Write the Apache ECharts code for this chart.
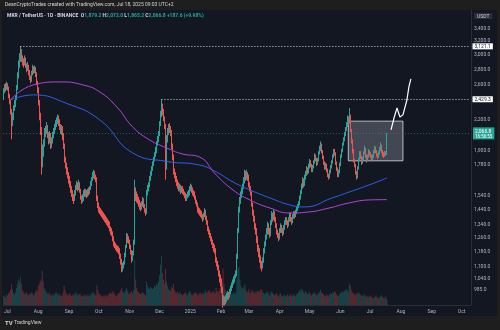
<!DOCTYPE html>
<html>
<head>
<meta charset="utf-8">
<script src="https://cdn.jsdelivr.net/npm/echarts@6/dist/echarts.min.js"></script>
<style>
html,body{margin:0;padding:0;background:#1e1e1e;overflow:hidden;}
#chart{width:500px;height:330px;}
</style>
</head>
<body>
<div id="chart"></div>
<script>
// ---------------- DATA ----------------
const firstDate = '2024-06-27';
const lastAxisDate = '2025-10-10';
const firstOpen = 2450;
const closes = [
2520,2580,2560,2600,2560,2470,2400,2300,2180,2250,
2320,2360,2440,2560,2700,2860,2960,3040,2950,2900,
2880,2940,2850,2800,2840,2760,2700,2660,2740,2820,
2790,2810,2740,2620,2550,2400,2250,2100,1980,1800,
1880,1960,2080,2100,2130,2060,1990,2050,1950,1990,
2040,2080,2120,2160,2190,2220,2180,2140,2090,2120,
2050,1950,1830,1780,1740,1700,1670,1630,1590,1560,
1530,1510,1550,1600,1620,1590,1630,1580,1530,1500,
1520,1560,1550,1560,1540,1570,1560,1590,1620,1660,
1690,1710,1680,1670,1520,1470,1440,1430,1420,1415,
1400,1390,1380,1370,1360,1350,1345,1320,1300,1290,
1260,1230,1215,1205,1200,1195,1190,1160,1135,1085,
1100,1115,1160,1205,1270,1250,1245,1210,1180,1140,
1170,1230,1560,1540,1530,1510,1490,1470,1455,1480,
1510,1470,1440,1420,1560,1590,1610,1660,1700,1740,
1780,1820,1860,1900,1960,2000,2050,2150,2250,2330,
2300,2220,2150,1760,2000,2080,2130,2110,2090,1950,
1850,1720,1700,1660,1640,1620,1590,1600,1580,1590,
1570,1560,1540,1520,1530,1550,1560,1590,1600,1580,
1560,1550,1530,1500,1480,1460,1440,1430,1420,1410,
1400,1380,1400,1430,1390,1360,1320,1300,1280,1260,
1240,1220,1200,1190,1140,1120,1100,1070,1040,1030,
990,935,940,930,945,950,960,955,975,990,
1000,1020,1030,1045,1060,1150,1300,1440,1500,1540,
1560,1600,1640,1700,1680,1700,1690,1620,1600,1560,
1480,1420,1380,1330,1300,1250,1200,1180,1150,1110,
1100,1130,1180,1220,1260,1290,1330,1300,1280,1350,
1400,1380,1420,1380,1340,1300,1280,1260,1300,1330,
1310,1290,1320,1350,1370,1360,1340,1370,1400,1380,
1360,1390,1410,1400,1420,1440,1460,1480,1520,1560,
1600,1650,1620,1680,1700,1740,1720,1760,1800,1780,
1740,1760,1800,1850,1830,1790,1820,1880,1920,1960,
1900,1850,1800,1760,1780,1740,1700,1680,1720,1760,
1800,1850,1900,1880,1800,1750,1700,1720,1780,1850,
1900,1960,2000,2050,2100,2150,2200,2180,2250,2100,
2000,1900,1850,1820,1780,1720,1680,1750,1820,1880,
1850,1800,1830,1880,1920,1860,1820,1850,1900,1880,
1860,1830,1850,1890,1930,1900,1870,1850,1880,1920,
1950,1900,1870,1860,1880,1879.2,2066.8
];
const highs = [
2560,2610,2620,2640,2620,2580,2490,2420,2320,2280,
2360,2420,2470,2600,2760,2920,3020,3121.1,3080,2990,
2950,2990,2960,2880,2900,2860,2790,2720,2780,2860,
2840,2850,2830,2760,2650,2570,2420,2280,2130,2000,
1960,2010,2120,2140,2180,2150,2080,2090,2070,2030,
2080,2120,2160,2200,2230,2260,2250,2210,2160,2150,
2140,2070,1970,1850,1800,1760,1720,1690,1650,1610,
1580,1550,1580,1620,1650,1640,1660,1640,1590,1540,
1550,1580,1590,1590,1580,1590,1600,1610,1650,1680,
1720,1740,1730,1700,1680,1540,1490,1460,1450,1440,
1430,1420,1410,1400,1390,1380,1370,1360,1330,1320,
1300,1270,1240,1230,1220,1215,1210,1200,1170,1140,
1120,1130,1175,1220,1290,1285,1270,1250,1220,1190,
1185,1250,1660,1600,1570,1550,1530,1510,1490,1500,
1530,1520,1480,1450,1580,1620,1640,1690,1730,1770,
1810,1850,1890,1940,1990,2040,2090,2190,2300,2429.3,
2380,2320,2240,2160,2050,2120,2160,2170,2140,2100,
1970,1870,1750,1720,1690,1660,1640,1630,1620,1610,
1610,1590,1570,1560,1550,1570,1580,1610,1630,1620,
1600,1580,1570,1540,1510,1490,1470,1460,1450,1440,
1430,1410,1420,1450,1440,1400,1370,1330,1310,1290,
1270,1250,1230,1220,1200,1150,1130,1110,1080,1060,
1040,1000,960,955,960,970,980,975,990,1005,
1020,1035,1050,1060,1080,1170,1320,1460,1530,1570,
1600,1630,1680,1740,1730,1740,1720,1700,1640,1610,
1570,1490,1440,1400,1350,1320,1270,1220,1200,1160,
1130,1150,1200,1240,1280,1320,1360,1350,1320,1370,
1430,1420,1440,1430,1390,1350,1310,1290,1320,1350,
1340,1320,1340,1370,1390,1390,1370,1390,1420,1420,
1390,1410,1430,1430,1440,1460,1480,1500,1540,1580,
1630,1680,1670,1700,1730,1770,1760,1790,1830,1820,
1790,1780,1820,1880,1870,1840,1840,1900,1950,1990,
1970,1910,1860,1810,1800,1790,1750,1710,1740,1780,
1820,1870,1920,1920,1890,1810,1760,1740,1800,1870,
1920,1980,2030,2080,2130,2180,2250,2240,2330,2260,
2110,2010,1920,1870,1830,1790,1730,1770,1840,1900,
1900,1860,1850,1900,1950,1930,1870,1870,1920,1910,
1890,1870,1870,1910,1950,1940,1910,1880,1900,1940,
1980,1960,1910,1890,1900,1900,2072
];
const lows = [
2420,2500,2520,2540,2530,2440,2370,2260,2010,2140,
2200,2300,2340,2420,2540,2680,2820,2900,2900,2850,
2820,2850,2820,2760,2780,2720,2660,2620,2640,2720,
2740,2750,2700,2600,2500,2360,2200,2050,1900,1700,
1760,1850,1940,2030,2060,2020,1960,1970,1920,1930,
1970,2020,2060,2100,2130,2160,2140,2100,2060,2050,
2000,1920,1800,1750,1700,1670,1630,1600,1560,1530,
1500,1480,1500,1540,1580,1570,1580,1560,1510,1480,
1490,1500,1530,1530,1520,1530,1540,1550,1580,1610,
1650,1670,1660,1640,1500,1450,1420,1410,1400,1390,
1380,1370,1360,1350,1340,1330,1320,1300,1280,1270,
1240,1210,1200,1190,1180,1175,1165,1140,1110,1070,
1075,1090,1110,1150,1200,1230,1225,1195,1165,1120,
1130,1160,1220,1500,1490,1480,1460,1440,1430,1440,
1460,1450,1420,1400,1410,1540,1570,1600,1650,1690,
1730,1770,1810,1850,1880,1950,1980,2040,2140,2230,
2250,2190,2110,1660,1740,1980,2050,2070,2040,1920,
1820,1700,1670,1640,1610,1590,1570,1570,1550,1560,
1550,1540,1520,1500,1500,1520,1530,1540,1570,1560,
1540,1530,1510,1480,1460,1440,1420,1410,1400,1390,
1380,1360,1370,1390,1370,1340,1300,1280,1260,1240,
1220,1200,1180,1170,1120,1100,1080,1050,1020,1000,
970,905,915,915,920,930,940,940,950,965,
980,995,1010,1020,1040,1050,1140,1290,1420,1480,
1520,1550,1590,1630,1650,1660,1650,1600,1570,1540,
1460,1400,1360,1310,1280,1230,1180,1150,1120,1090,
1075,1090,1120,1170,1210,1250,1280,1280,1260,1270,
1340,1360,1370,1360,1320,1280,1260,1240,1250,1290,
1290,1270,1280,1310,1340,1340,1320,1330,1360,1360,
1340,1350,1380,1380,1390,1410,1430,1450,1470,1510,
1550,1590,1600,1610,1660,1690,1700,1710,1750,1760,
1720,1720,1750,1790,1810,1770,1780,1810,1870,1900,
1880,1830,1780,1740,1740,1720,1680,1660,1670,1710,
1750,1790,1840,1860,1780,1730,1680,1680,1710,1770,
1840,1890,1950,1990,2040,2090,2130,2150,2160,2080,
1970,1880,1830,1800,1760,1700,1660,1670,1740,1810,
1830,1780,1790,1820,1870,1840,1800,1810,1840,1860,
1840,1810,1820,1840,1880,1880,1850,1830,1840,1870,
1900,1880,1850,1840,1850,1860,1865.2
];
// daily volume, thousands of MKR
const volumes = [
9,8,7,10,9,11,12,14,20,15,
11,10,12,16,20,24,22,26,20,14,
12,11,10,12,10,9,11,10,12,11,
9,10,12,14,13,18,20,22,24,32,
22,16,14,12,11,10,12,9,10,9,
10,9,11,12,10,11,9,10,8,9,
12,18,14,11,10,9,10,11,9,8,
10,9,11,12,10,9,10,11,9,8,
8,9,10,8,9,10,8,9,10,11,
12,11,10,9,19,14,11,10,9,8,
9,8,9,10,8,9,10,11,12,10,
13,12,10,9,8,10,11,12,14,16,
13,11,12,14,16,13,11,10,12,13,
11,14,42,24,16,13,12,11,10,11,
12,11,10,9,22,18,16,15,17,16,
15,16,18,17,20,19,22,28,38,46,
30,24,20,34,22,18,15,14,13,17,
16,20,14,12,11,13,10,12,11,10,
9,10,11,12,10,9,11,13,12,10,
9,10,11,12,11,10,9,11,12,10,
11,10,12,14,11,12,13,14,12,11,
12,13,12,11,16,13,12,14,16,18,
22,34,20,15,13,12,11,12,10,11,
10,11,12,10,12,24,34,36,24,18,
16,15,17,20,14,12,13,15,12,11,
14,13,12,11,13,12,14,13,12,15,
14,12,11,10,11,12,13,10,9,12,
13,11,10,9,10,11,9,8,10,11,
9,8,9,10,8,9,10,8,9,10,
8,9,10,9,8,10,11,12,14,13,
15,14,12,11,13,12,10,11,12,10,
9,10,11,12,10,9,10,11,12,14,
12,11,10,9,8,10,9,8,10,11,
10,12,11,13,12,10,9,8,10,12,
11,13,12,14,13,15,14,12,20,18,
14,12,11,10,9,11,10,12,11,10,
9,8,9,10,8,9,8,7,8,9,
8,7,6,7,8,9,7,6,7,8,
9,8,7,6,7,8,4.42
];
const blueMaDates = ['2024-07-04','2024-07-27','2024-08-30','2024-10-02','2024-11-04','2024-12-08','2025-01-10','2025-01-27','2025-02-13','2025-03-02','2025-03-22','2025-04-11','2025-04-26','2025-05-24','2025-06-10','2025-06-30','2025-07-18'];
const blueMaValues = [2421,2480,2380,2202,1884,1810,1780,1722,1642,1581,1523,1473,1459,1523,1566,1619,1674.1];
const purpleMaDates = ['2024-07-04','2024-07-27','2024-08-23','2024-09-15','2024-10-02','2024-10-19','2024-11-04','2024-11-21','2024-12-08','2024-12-24','2025-01-10','2025-01-27','2025-02-13','2025-03-02','2025-03-22','2025-04-11','2025-05-01','2025-05-21','2025-06-10','2025-06-30','2025-07-18'];
const purpleMaValues = [2421,2600,2637,2600,2514,2342,2131,2004,1930,1875,1849,1698,1581,1508,1452,1418,1425,1452,1487,1508,1510.4];
const projDates = ['2025-07-22','2025-07-25','2025-07-28','2025-07-31','2025-08-03','2025-08-07','2025-08-09','2025-08-11'];
const projValues = [2101,2223,2331,2234,2256,2421,2575,2675];
const levelHigh = {date:'2024-07-14', value:3121.1};
const levelDec = {date:'2024-12-03', value:2429.3};
const lastPrice = 2066.8;
const lastVolume = 4.42;
const boxFrom = {date:'2025-06-09', value:2190};
const boxTo = {date:'2025-08-03', value:1815};
const priceTicks = [3400,3200,3000,2800,2600,2200,1900,1780,1540,1440,1340,1260,1180,1100,1040,985];
const monthNames = ['Jan','Feb','Mar','Apr','May','Jun','Jul','Aug','Sep','Oct','Nov','Dec'];

// ---------------- BUILD ----------------
const FONT = 'Roboto, "Noto Sans", sans-serif';
const UP = '#26a69a', DN = '#ef5350';
const dates = [];
(function(){
  const p = s => { const a = s.split('-').map(Number); return Date.UTC(a[0], a[1]-1, a[2]); };
  let t = p(firstDate); const end = p(lastAxisDate);
  while (t <= end) { dates.push(new Date(t).toISOString().slice(0,10)); t += 86400000; }
})();
const idx = d => dates.indexOf(d);
const candles = closes.map((c,i) => [i === 0 ? firstOpen : closes[i-1], c, lows[i], highs[i]]);
const volData = volumes.map((v,i) => ({value:v, itemStyle:{color: candles[i][1] >= candles[i][0] ? 'rgba(38,166,154,0.32)' : 'rgba(239,83,80,0.32)'}}));
const bluePts = blueMaDates.map((d,k) => [idx(d), blueMaValues[k]]);
const purplePts = purpleMaDates.map((d,k) => [idx(d), purpleMaValues[k]]);
const projPts = projDates.map((d,k) => [idx(d), projValues[k]]);
const fmtPrice = v => Number(v).toLocaleString('en-US', {minimumFractionDigits:1, maximumFractionDigits:1});
const fmtMonth = v => v.slice(5,7) === '01' ? v.slice(0,4) : monthNames[+v.slice(5,7)-1];
const badge = (text, bg, fg) => ({show:true, position:'end', distance:2, formatter:text, backgroundColor:bg, color:fg, fontSize:5, fontFamily:FONT, padding:[1,2,0,2]});
const lastCat = dates[dates.length-1];

const option = {
  animation:false,
  backgroundColor:'#131722',
  textStyle:{fontFamily:FONT},
  graphic:[
    {type:'rect', shape:{x:0,y:0,width:500,height:10}, style:{fill:'#1e1e1e'}},
    {type:'rect', shape:{x:0,y:316,width:500,height:14}, style:{fill:'#1e1e1e'}},
    {type:'rect', shape:{x:0,y:0,width:2,height:330}, style:{fill:'#1e1e1e'}},
    {type:'rect', shape:{x:497,y:0,width:3,height:330}, style:{fill:'#1e1e1e'}}
  ],
  title:[
    {text:'DeanCryptoTrades created with TradingView.com, Jul 18, 2025 09:03 UTC+2', left:5, top:2, padding:0,
     textStyle:{color:'#d1d4dc', fontSize:5, fontWeight:'normal', fontFamily:FONT}},
    {text:'{s|MKR / TetherUS · 1D · BINANCE}  {k|O}{v|1,879.2} {k|H}{v|2,072.0} {k|L}{v|1,865.2} {k|C}{v|2,066.8} {v|+187.6 (+9.98%)}',
     left:7, top:13, padding:0,
     textStyle:{fontSize:5, fontFamily:FONT, rich:{
       s:{color:'#d1d4dc', fontSize:5, fontFamily:FONT},
       k:{color:'#d1d4dc', fontSize:5, fontFamily:FONT},
       v:{color:UP, fontSize:5, fontFamily:FONT}}}},
    {text:'USDT', left:474, top:13, padding:[1,3,0,3], backgroundColor:'#2a2e39',
     textStyle:{color:'#d1d4dc', fontSize:5, fontWeight:'normal', fontFamily:FONT}},
    {text:'{l|TV} TradingView', left:5, top:320, padding:0,
     textStyle:{color:'#d1d4dc', fontSize:5, fontWeight:'normal', fontFamily:FONT,
       rich:{l:{fontSize:6, fontWeight:'bold', color:'#d1d4dc', fontFamily:FONT}}}}
  ],
  grid:[
    {left:3, right:29, top:10, bottom:25},
    {left:3, right:29, top:225, bottom:25}
  ],
  xAxis:[
    {type:'category', data:dates, gridIndex:0, boundaryGap:true,
     axisLine:{show:true, lineStyle:{color:'#2a2e39'}}, axisTick:{show:false}, splitLine:{show:false},
     axisLabel:{interval:(i,v) => v.slice(8) === '01', formatter:fmtMonth, color:'#b2b5be', fontSize:5, margin:4, fontFamily:FONT}},
    {type:'category', data:dates, gridIndex:1, boundaryGap:true, show:false}
  ],
  yAxis:[
    {type:'log', logBase:10, min:917, max:3707, position:'right', gridIndex:0,
     axisLine:{show:true, lineStyle:{color:'#2a2e39'}}, axisTick:{show:false}, splitLine:{show:false},
     axisLabel:{customValues:priceTicks, formatter:fmtPrice, color:'#b2b5be', fontSize:5, margin:3, fontFamily:FONT}},
    {type:'value', gridIndex:1, min:0, max:75, show:false}
  ],
  series:[
    {type:'bar', xAxisIndex:1, yAxisIndex:1, data:volData, barWidth:1, silent:true, z:1,
     markLine:{symbol:['none','none'], silent:true, data:[
       {yAxis:lastVolume, lineStyle:{opacity:0}, label:badge('4.42K', UP, '#ffffff')}]}},
    {type:'candlestick', name:'MKRUSDT', data:candles, barWidth:1, z:3,
     itemStyle:{color:UP, color0:DN, borderColor:UP, borderColor0:DN, borderWidth:1},
     markArea:{silent:true, data:[[
       {coord:[boxFrom.date, boxFrom.value], itemStyle:{color:'rgba(170,174,186,0.32)', borderColor:'rgba(210,212,220,0.85)', borderWidth:1}},
       {coord:[boxTo.date, boxTo.value]}]]},
     markLine:{symbol:['none','none'], silent:true, data:[
       [{coord:[levelHigh.date, levelHigh.value], lineStyle:{color:'#d1d4dc', type:[1,2], width:1}},
        {coord:[lastCat, levelHigh.value], label:badge('3,121.1', '#ffffff', '#131722')}],
       [{coord:[levelDec.date, levelDec.value], lineStyle:{color:'#d1d4dc', type:[1,2], width:1}},
        {coord:[lastCat, levelDec.value], label:badge('2,429.3', '#ffffff', '#131722')}],
       {yAxis:lastPrice, lineStyle:{color:'rgba(38,166,154,0.5)', type:[1,2], width:1},
        label:{show:true, position:'end', distance:2, backgroundColor:UP, padding:[1,2,0,2],
          formatter:'{a|2,066.8}\n{b|16:56:55}',
          rich:{a:{color:'#ffffff', fontSize:5, fontFamily:FONT, lineHeight:6}, b:{color:'#ffffff', fontSize:4.5, fontFamily:FONT, lineHeight:5}}}},
       {yAxis:lastPrice, lineStyle:{opacity:0},
        label:{show:true, position:'insideEnd', distance:0, formatter:'MKRUSDT', backgroundColor:UP, color:'#ffffff', fontSize:4.5, fontFamily:FONT, padding:[1,2,0,2]}}
     ]}},
    {type:'line', name:'MA blue', data:bluePts, smooth:true, showSymbol:false, z:4,
     lineStyle:{color:'#2f5fe6', width:1},
     markLine:{symbol:['none','none'], silent:true, data:[
       {yAxis:1674.1, lineStyle:{opacity:0}, label:badge('1,674.1', '#2f5fe6', '#ffffff')}]}},
    {type:'line', name:'MA purple', data:purplePts, smooth:true, showSymbol:false, z:4,
     lineStyle:{color:'#b544d8', width:1},
     markLine:{symbol:['none','none'], silent:true, data:[
       {yAxis:1510.4, lineStyle:{opacity:0}, label:badge('1,510.4', '#a53bc9', '#ffffff')}]}},
    {type:'line', name:'Projection', data:projPts, smooth:false, showSymbol:false, z:5,
     lineStyle:{color:'#ffffff', width:1.2}}
  ]
};
const chart = echarts.init(document.getElementById('chart'), null, {renderer:'canvas'});
chart.setOption(option);
</script>
</body>
</html>
